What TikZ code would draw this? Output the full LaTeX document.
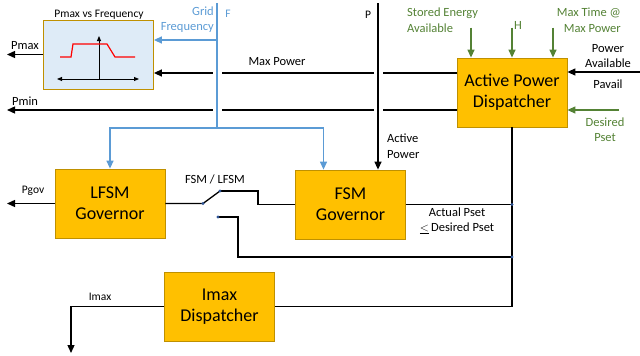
\documentclass[tikz,border=0pt]{standalone}
\usepackage{fontspec}
\setmainfont{Carlito}
\usetikzlibrary{positioning,arrows.meta}
\definecolor{boxfill}{HTML}{FFC000}
\definecolor{boxline}{HTML}{BF9000}
\definecolor{plotfill}{HTML}{DEEBF7}
\definecolor{gridblue}{HTML}{5B9BD5}
\definecolor{setgreen}{HTML}{548235}
\definecolor{dotblue}{HTML}{2F5597}
\tikzset{>={Triangle[length=8pt,width=7pt]}, % filled arrow heads
block/.style={draw=boxline, fill=boxfill, line width=0.8pt, minimum width=110pt, minimum height=69pt, inner sep=0pt, align=center, font=\fontsize{18}{21}\selectfont}, % the orange blocks
wire/.style={line width=1.3pt}, % signal lines
gridwire/.style={wire, draw=gridblue}, % frequency lines
setwire/.style={wire, draw=setgreen}, % settings coming into the dispatcher
gap/.style={preaction={draw=white, line width=9pt, -, shorten >=12pt}}, % breaks the lines it crosses
lbl/.style={inner sep=0pt, align=center, font=\fontsize{12.5}{15.5}\selectfont},
small/.style={inner sep=0pt, font=\fontsize{11.5}{13}\selectfont},
tip/.style={line width=1pt, >={Triangle[length=5pt,width=4pt]}},
}
\begin{document}
\begin{tikzpicture}[x=1pt, y=-1pt]
\useasboundingbox (0,0) rectangle (640,356);

\node[block] (apd) at (512,92.5) {Active Power\\Dispatcher};
\node[block] (lfsm) at (110,203.5) {LFSM\\Governor};
\node[block] (fsm) at (350.5,204.5) {FSM\\Governor};
\node[block] (imax) at (219.5,306.5) {Imax\\Dispatcher};
\node[block, fill=plotfill] (pmaxbox) at (98.5,54.5) {};

% free ends and branch points
\coordinate (pmaxout) at (7,54.5);
\coordinate (pminout) at (7,110);
\coordinate (pgovout) at (7,203.5);
\coordinate (imaxout) at (71,353);
\coordinate (gridtop) at (217,3);
\coordinate (gridbot) at (217,128);
\coordinate (gridin) at (217,40);
\coordinate (ptop) at (378,3);
\coordinate (pavail) at (640,72);
\coordinate (pdesired) at (619,110);
\coordinate (maxp) at ([yshift=19.5pt]apd.west);
\coordinate (minp) at ([yshift=-17.5pt]apd.west);
\coordinate (sw) at (203,203.5);
\coordinate (swfsm) at (220,191);
\coordinate (swset) at (218,217);
\coordinate (tapfsm) at (fsm.east -| apd.south);
\coordinate (tapset) at (512,257);

\draw[wire,->] (maxp) -- (maxp -| pmaxbox.east);
\draw[wire,->] (minp) -- (minp -| pminout);
\draw[gridwire, gap] (gridtop) -- (gridbot);
\draw[wire, gap, ->] (ptop) -- (ptop |- fsm.north);
\draw[gridwire,->] (gridbot) -| (lfsm.north);
\draw[gridwire,->] (gridbot) -| ([xshift=-27pt]fsm.north);
\draw[gridwire,->] (gridin) -- (gridin -| pmaxbox.east);
\draw[wire,->] (pmaxbox.west) -- (pmaxout);
\foreach \dx in {-41,0,41}
  \draw[setwire,->] ([xshift=\dx pt, yshift=30pt]apd.north) -- ([xshift=\dx pt]apd.north);
\draw[wire,->] (pavail) -- (pavail -| apd.east);
\draw[setwire,->] (pdesired) -- (pdesired -| apd.east);
\draw[wire] (apd.south) |- (imax.east);
\draw[wire,->] (imax.west) -| (imaxout);
\draw[wire,->] (lfsm.west) -- (pgovout);
\draw[wire] (lfsm.east) -- (sw) -- (swfsm);
\draw[wire] (swfsm) -- ++(38,0) |- (fsm.west);
\draw[wire] (fsm.east) -- (tapfsm);
\draw[wire] (swset) -- ++(20,0) |- (tapset);
\foreach \p in {sw,swfsm,swset,tapfsm,tapset}
  \fill[dotblue] (\p) circle (1.6pt);

% Pmax curve over frequency
\draw[tip,<->] (57,79) -- (139,79);
\draw[tip,->] (99,79) -- (99,36);
\draw[red, line width=1.2pt] (60,57) -- (71,57) -- (73,44) -- (107,44) -- (115,57) -- (135,57);

\node[lbl, font=\fontsize{11.5}{14}\selectfont] at (99,15) {Pmax vs Frequency};
\node[lbl] at (277,62) {Max Power};
\node[lbl] at (25,46) {Pmax};
\node[lbl] at (25,101) {Pmin};
\node[small] at (33,191) {Pgov};
\node[small] at (100,297) {Imax};
\node[lbl, gridblue, anchor=east, align=right] at (214,19.5) {Grid\\Frequency};
\node[small, gridblue] at (228,14) {F};
\node[small] at (368,15) {P};
\node[lbl, anchor=west, align=left] at (387,146) {Active\\Power};
\node[lbl, setgreen, anchor=west, align=left] at (407,20) {Stored Energy\\Available};
\node[lbl, setgreen] at (518,25) {H};
\node[lbl, setgreen, anchor=east, align=right] at (621,20) {Max Time @\\Max Power};
\node[lbl] at (608,56) {Power\\Available};
\node[lbl] at (608,84) {Pavail};
\node[lbl, setgreen] at (605,129.5) {Desired\\Pset};
\node[lbl] at (215,179) {FSM / LFSM};
\node[lbl] at (457,221) {Actual Pset\\\underline{$<$}\,Desired Pset};

\end{tikzpicture}
\end{document}
